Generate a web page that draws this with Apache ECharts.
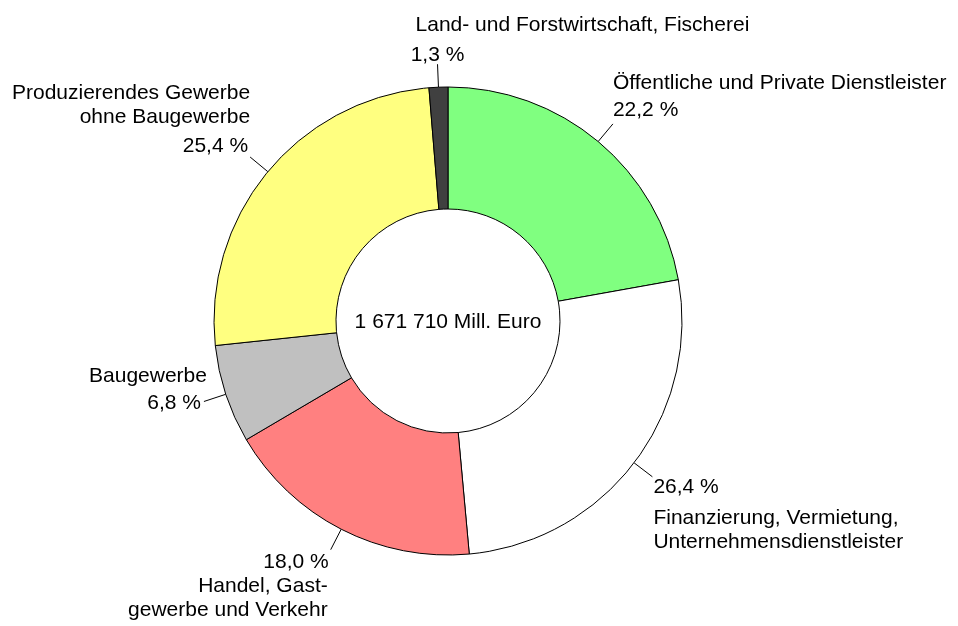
<!DOCTYPE html>
<html>
<head>
<meta charset="utf-8">
<script src="https://cdn.jsdelivr.net/npm/echarts@6/dist/echarts.min.js"></script>
<style>
  html, body { margin: 0; padding: 0; background: #fff; }
  #chart { width: 958px; height: 626px; }
</style>
</head>
<body>
<div id="chart"></div>
<script>
// Bruttowertschöpfung nach Wirtschaftsbereichen (Anteile in %)
const sectors = [
    'Öffentliche und Private Dienstleister',
    'Finanzierung, Vermietung,\nUnternehmensdienstleister',
    'Handel, Gast-\ngewerbe und Verkehr',
    'Baugewerbe',
    'Produzierendes Gewerbe\nohne Baugewerbe',
    'Land- und Forstwirtschaft, Fischerei'
];
const shares = [22.2, 26.4, 18.0, 6.8, 25.4, 1.3];
const colors = ['#80ff80', '#ffffff', '#ff8080', '#c0c0c0', '#ffff80', '#404040'];
const totalText = '1 671 710 Mill. Euro';

// Lage der Beschriftungen relativ zum Ende der Hinweislinie: [dx, dy, align]
const pctOffset = [[0, -14, 'left'], [1, 10, 'left'], [-2, 13, 'right'], [-3, 2, 'right'], [-2, -11, 'right'], [0, -9, 'center']];
const nameOffset = [[0, -41, 'left'], [1, 53, 'left'], [-3, 49, 'right'], [3, -25, 'right'], [0, -52, 'right'], [-22, -39, 'left']];

const center = [448, 321];
const radius = [112, 234];
const font = { fontFamily: '"Liberation Sans", Arial, sans-serif', fontSize: 21, color: '#000' };

function placeLabel(offsets) {
    return function (params) {
        const pts = params.labelLinePoints;
        if (!pts) return {};
        const end = pts[pts.length - 1];
        const o = offsets[params.dataIndex];
        return {
            x: end[0] + o[0],
            y: end[1] + o[1],
            align: o[2],
            verticalAlign: 'middle',
            labelLinePoints: pts
        };
    };
}

const pieData = sectors.map((name, i) => ({ name: name, value: shares[i], itemStyle: { color: colors[i] } }));

const myChart = echarts.init(document.getElementById('chart'));
const option = {
    animation: false,
    backgroundColor: '#fff',
    series: [
        {
            name: 'anteil',
            type: 'pie',
            center: center,
            radius: radius,
            startAngle: 90,
            clockwise: true,
            avoidLabelOverlap: false,
            silent: true,
            itemStyle: { borderColor: '#000', borderWidth: 1 },
            label: Object.assign({
                show: true,
                position: 'outside',
                lineHeight: 24,
                width: 400,
                overflow: 'none',
                formatter: p => p.value.toFixed(1).replace('.', ',') + ' %'
            }, font),
            labelLine: { show: true, length: 23, length2: 0, smooth: false, lineStyle: { color: '#000', width: 1 } },
            labelLayout: placeLabel(pctOffset),
            data: pieData
        },
        {
            name: 'bereich',
            type: 'pie',
            center: center,
            radius: radius,
            startAngle: 90,
            clockwise: true,
            avoidLabelOverlap: false,
            silent: true,
            itemStyle: { color: 'transparent', borderWidth: 0 },
            label: Object.assign({
                show: true,
                position: 'outside',
                lineHeight: 24,
                width: 500,
                overflow: 'none',
                formatter: p => p.name
            }, font),
            labelLine: { show: true, length: 23, length2: 0, lineStyle: { opacity: 0, width: 0 } },
            labelLayout: placeLabel(nameOffset),
            data: sectors.map((name, i) => ({ name: name, value: shares[i] }))
        }
    ],
    graphic: [
        {
            type: 'text',
            x: center[0],
            y: center[1] + 1,
            style: {
                text: totalText,
                x: 0, y: 0,
                textAlign: 'center',
                textVerticalAlign: 'middle',
                font: '21px "Liberation Sans", Arial, sans-serif',
                fill: '#000'
            }
        }
    ]
};
myChart.setOption(option);
</script>
</body>
</html>
